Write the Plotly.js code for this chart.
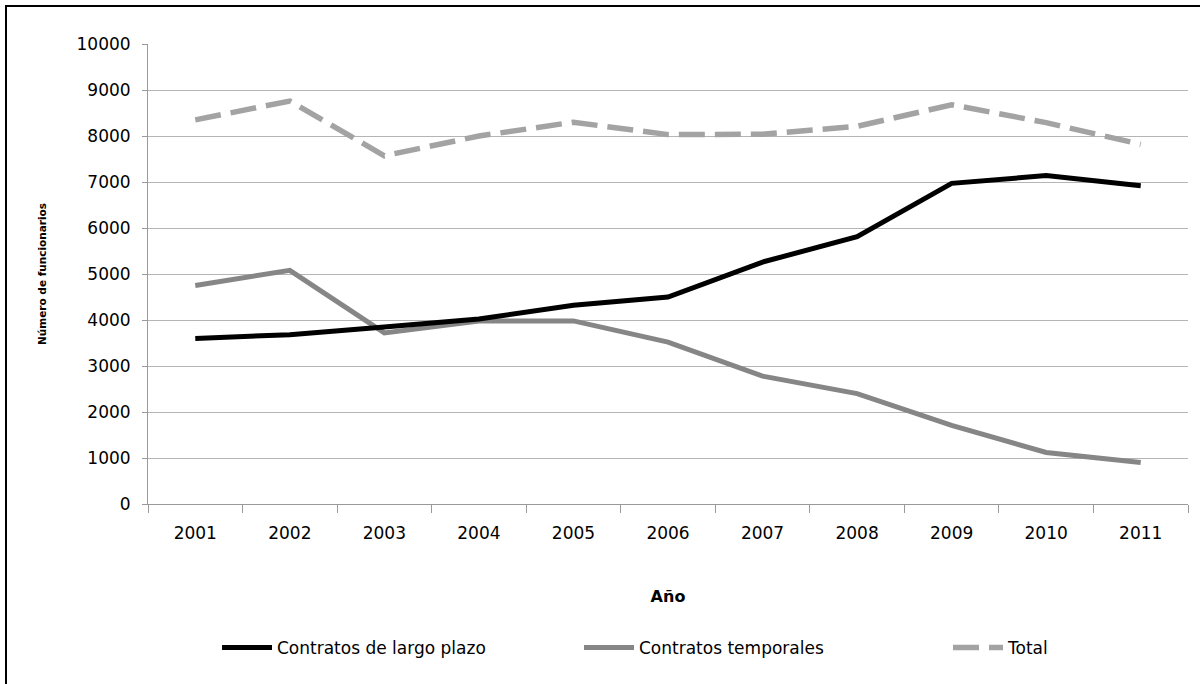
<!DOCTYPE html>
<html>
<head>
<meta charset="utf-8">
<script src="https://cdn.plot.ly/plotly-3.0.1.min.js"></script>
<style>
  html, body { margin: 0; padding: 0; background: #fff; }
  #chart { position: absolute; left: 0; top: 0; width: 1203px; height: 684px; }
  #frame { position: absolute; left: 5px; top: 5px; width: 1193px; height: 690px;
           border-left: 2px solid #000; border-top: 2px solid #000; pointer-events: none; }
</style>
</head>
<body>
<div id="chart"></div>
<div id="frame"></div>
<script>
const years = ['2001','2002','2003','2004','2005','2006','2007','2008','2009','2010','2011'];
const largoPlazo = [3600, 3680, 3850, 4020, 4320, 4500, 5260, 5810, 6970, 7140, 6920];
const temporales = [4750, 5080, 3720, 3980, 3980, 3520, 2780, 2400, 1710, 1120, 900];
const total = [8350, 8760, 7570, 8000, 8300, 8030, 8040, 8210, 8680, 8290, 7820];
const yTicks = [0,1000,2000,3000,4000,5000,6000,7000,8000,9000,10000];

const FONT = 'DejaVu Sans, Liberation Sans, Arial, sans-serif';
const BOLD = 'DejaVu Sans, Liberation Sans, Arial, sans-serif';

const traces = [
  { x: years, y: temporales, name: 'Contratos temporales', type: 'scatter', mode: 'lines',
    line: { color: '#868686', width: 5 }, legend: 'legend2' },
  { x: years, y: total, name: 'Total', type: 'scatter', mode: 'lines',
    line: { color: '#a3a3a3', width: 5.5, dash: '26px,10px' }, legend: 'legend3' },
  { x: years, y: largoPlazo, name: 'Contratos de largo plazo', type: 'scatter', mode: 'lines',
    line: { color: '#000000', width: 5 }, legend: 'legend' }
];

const W = 1040, H = 460, L = 148, T = 44;
function px(xp) { return (xp - L) / W; }
function py(yp) { return (T + H - yp) / H; }

const legendBase = {
  orientation: 'h', yanchor: 'middle', xanchor: 'left', y: py(648),
  font: { family: FONT, size: 17, color: '#000' }, bgcolor: 'rgba(0,0,0,0)',
  itemwidth: 50, borderwidth: 0
};

const layout = {
  width: 1203, height: 684,
  margin: { l: L, r: 1203 - L - W, t: T, b: 684 - T - H },
  paper_bgcolor: '#fff', plot_bgcolor: '#fff',
  showlegend: true,
  xaxis: {
    type: 'category', categoryorder: 'array', categoryarray: years,
    range: [-0.5, years.length - 0.5],
    tickson: 'boundaries', ticks: 'outside', ticklen: 8, tickcolor: '#9a9a9a', tickwidth: 1,
    ticklabelstandoff: 14,
    showline: true, linecolor: '#9a9a9a', linewidth: 1, showgrid: false, zeroline: false,
    tickfont: { family: FONT, size: 17, color: '#000' },
    title: { text: 'Año', font: { family: BOLD, size: 16, color: '#000', weight: 'bold' }, standoff: 48 },
    fixedrange: true
  },
  yaxis: {
    range: [0, 10000], tickvals: yTicks, ticktext: yTicks.map(String),
    ticks: 'outside', ticklen: 5, tickcolor: '#9a9a9a', tickwidth: 1,
    ticklabelstandoff: 8,
    showline: true, linecolor: '#9a9a9a', linewidth: 1,
    showgrid: true, gridcolor: '#b5b5b5', gridwidth: 1, zeroline: false,
    tickfont: { family: FONT, size: 17, color: '#000' },
    title: { text: 'Número de funcionarios', font: { family: BOLD, size: 10.5, color: '#000', weight: 'bold' }, standoff: 27 },
    fixedrange: true
  },
  legend: Object.assign({}, legendBase, { x: px(217) }),
  legend2: Object.assign({}, legendBase, { x: px(579) }),
  legend3: Object.assign({}, legendBase, { x: px(948) })
};

Plotly.newPlot('chart', traces, layout, { displayModeBar: false, staticPlot: true });
</script>
</body>
</html>
